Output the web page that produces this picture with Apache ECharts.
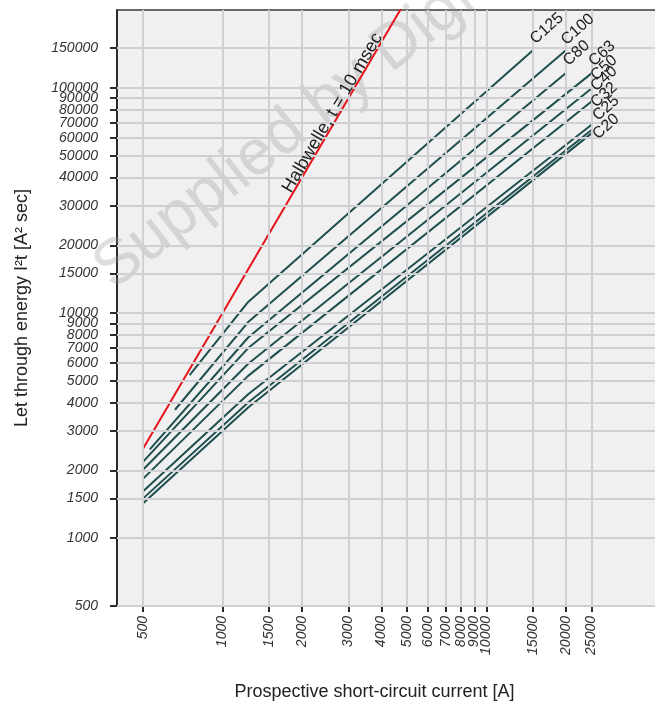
<!DOCTYPE html>
<html>
<head>
<meta charset="utf-8">
<script src="https://cdn.jsdelivr.net/npm/echarts@6/dist/echarts.min.js"></script>
<style>
html,body{margin:0;padding:0;background:#ffffff;}
#c{width:655px;height:706px;}
</style>
</head>
<body>
<div id="c"></div>
<script>
// ---- data ----
const xTicks = [500,1000,1500,2000,3000,4000,5000,6000,7000,8000,9000,10000,15000,20000,25000];
const yTicks = [500,1000,1500,2000,3000,4000,5000,6000,7000,8000,9000,10000,15000,20000,30000,40000,50000,60000,70000,80000,90000,100000,150000];

const curveNames = ['C125','C100','C80','C63','C50','C40','C32','C25','C20'];
const C125_I = [750, 1250, 15000];   const C125_E = [5300, 11200, 147000];
const C100_I = [660, 1250, 20000];   const C100_E = [3720, 9120, 147000];
const C80_I  = [530, 1250, 20000];   const C80_E  = [2480, 7790, 116500];
const C63_I  = [500, 1250, 25000];   const C63_E  = [2190, 6990, 116000];
const C50_I  = [500, 1250, 25000];   const C50_E  = [2020, 5950, 99300];
const C40_I  = [500, 1250, 25000];   const C40_E  = [1840, 5260, 87000];
const C32_I  = [500, 1250, 25000];   const C32_E  = [1615, 4360, 68600];
const C25_I  = [500, 1250, 25000];   const C25_E  = [1503, 4010, 65000];
const C20_I  = [500, 1250, 25000];   const C20_E  = [1430, 3807, 62800];

const halfWave_I = [500, 5000];
const halfWave_E = [2500, 250000];
const halfWaveLabel = 'Halbwelle, t = 10 msec';
const halfWaveLabelAt = [2610, 77400];

const curveI = [C125_I, C100_I, C80_I, C63_I, C50_I, C40_I, C32_I, C25_I, C20_I];
const curveE = [C125_E, C100_E, C80_E, C63_E, C50_E, C40_E, C32_E, C25_E, C20_E];

// ---- style config ----
const labelOffsets = [[5,-3],[3,-2],[5,-4],[5,-4],[7,-5],[7,-7],[7,-14],[9,-6],[9,9]];
const FONT = 'Liberation Sans, Arial, Helvetica, sans-serif';
const X_MIN = 398, X_MAX = 43500, Y_MIN = 500, Y_MAX = 221800;
const TEAL = '#1f4f4f', RED = '#e8141c', AXIS = '#2b2b2b', GRIDC = '#d0d0d4';

const chart = echarts.init(document.getElementById('c'), null, {renderer: 'canvas'});

const fmt = v => String(Math.round(v));

const series = [];
series.push({
  type: 'line', name: 'grid', data: [], silent: true, z: 1,
  markLine: {
    silent: true, symbol: ['none','none'], animation: false,
    label: {show: false},
    emphasis: {disabled: true},
    lineStyle: {color: GRIDC, width: 2, type: 'solid'},
    data: [...xTicks.map(v => ({xAxis: v})), ...yTicks.map(v => ({yAxis: v}))]
  }
});
curveNames.forEach((n, k) => {
  series.push({
    type: 'line', name: n, z: 3, showSymbol: false, symbol: 'none', clip: true,
    data: curveI[k].map((v, i) => [v, curveE[k][i]]),
    lineStyle: {color: TEAL, width: 2},
    emphasis: {disabled: true}
  });
});
series.push({
  type: 'line', name: 'Halbwelle', z: 4, showSymbol: false, symbol: 'none', clip: true,
  data: halfWave_I.map((v, i) => [v, halfWave_E[i]]),
  lineStyle: {color: RED, width: 2},
  emphasis: {disabled: true}
});

const tickLabel = {fontSize: 14, fontStyle: 'italic', color: '#333', fontFamily: FONT, formatter: fmt};

chart.setOption({
  animation: false,
  backgroundColor: '#ffffff',
  grid: {left: 117, right: 0, top: 10, bottom: 99, show: true, backgroundColor: '#f0f0f0', borderWidth: 0},
  xAxis: [{
    type: 'log', min: X_MIN, max: X_MAX,
    name: 'Prospective short-circuit current [A]', nameLocation: 'middle', nameGap: 77,
    nameTextStyle: {fontSize: 18, color: '#222', fontFamily: FONT, padding: [0, 23, 0, 0]},
    axisLine: {show: true, onZero: false, lineStyle: {color: AXIS, width: 2}},
    axisTick: {show: true, customValues: xTicks, length: 6, lineStyle: {color: AXIS, width: 2}},
    axisLabel: Object.assign({customValues: xTicks, rotate: 90, margin: 10}, tickLabel),
    splitLine: {show: false}, minorTick: {show: false}, minorSplitLine: {show: false}
  }, {
    type: 'log', min: X_MIN, max: X_MAX, position: 'top',
    axisLine: {show: true, onZero: false, lineStyle: {color: '#3a3a3a', width: 1.5}},
    axisTick: {show: false}, axisLabel: {show: false}, splitLine: {show: false}
  }],
  yAxis: {
    type: 'log', min: Y_MIN, max: Y_MAX,
    name: 'Let through energy I²t [A² sec]', nameLocation: 'middle', nameGap: 86, nameRotate: 90,
    nameTextStyle: {fontSize: 18, color: '#222', fontFamily: FONT},
    axisLine: {show: true, onZero: false, lineStyle: {color: AXIS, width: 2}},
    axisTick: {show: true, customValues: yTicks, length: 7, lineStyle: {color: AXIS, width: 2}},
    axisLabel: Object.assign({customValues: yTicks, margin: 19}, tickLabel),
    splitLine: {show: false}, minorTick: {show: false}, minorSplitLine: {show: false}
  },
  series: series
});

// labels placed through the chart's own scales
const toPx = p => chart.convertToPixel({xAxisIndex: 0, yAxisIndex: 0}, p);
const graphics = [];
graphics.push({
  type: 'text', x: 122, y: 302, rotation: 38 * Math.PI / 180, z: 2, silent: true,
  style: {text: 'Supplied by Digi', font: '64px ' + FONT, fill: 'rgba(150,150,150,0.30)',
          align: 'left', verticalAlign: 'bottom', shadowBlur: 4, shadowColor: 'rgba(150,150,150,0.3)'}
});
curveNames.forEach((n, k) => {
  const last = curveI[k].length - 1;
  const p = toPx([curveI[k][last], curveE[k][last]]);
  graphics.push({
    type: 'text', x: p[0] + labelOffsets[k][0], y: p[1] + labelOffsets[k][1],
    rotation: 42 * Math.PI / 180, z: 10, silent: true,
    style: {text: n, font: '16px ' + FONT, fill: '#222', align: 'left', verticalAlign: 'bottom'}
  });
});
const hp = toPx(halfWaveLabelAt);
graphics.push({
  type: 'text', x: hp[0], y: hp[1], rotation: 59.7 * Math.PI / 180, z: 10, silent: true,
  style: {text: halfWaveLabel, font: '18px ' + FONT, fill: '#222', align: 'center', verticalAlign: 'middle'}
});
chart.setOption({graphic: graphics});
</script>
</body>
</html>
